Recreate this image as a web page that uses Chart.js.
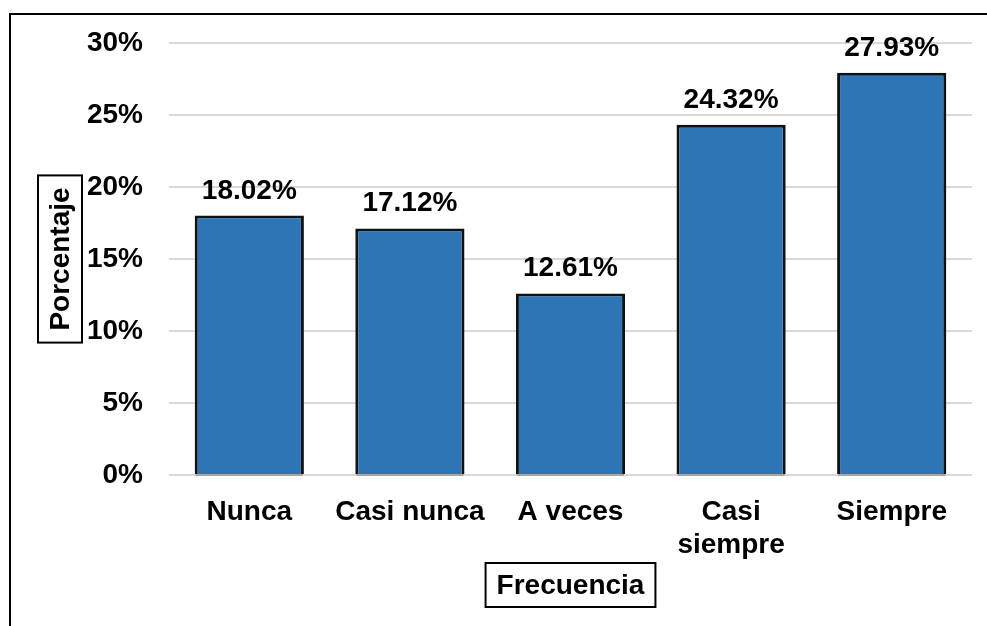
<!DOCTYPE html>
<html>
<head>
<meta charset="utf-8">
<script src="https://cdn.jsdelivr.net/npm/chart.js@4/dist/chart.umd.min.js"></script>
<style>
  html, body { margin: 0; padding: 0; background: #fff; overflow: hidden; }
  #wrap { position: relative; width: 987px; height: 626px; }
</style>
</head>
<body>
<div id="wrap"><canvas id="chart"></canvas></div>
<script>
// === DATA ===
const categories = ['Nunca', 'Casi nunca', 'A veces', ['Casi', 'siempre'], 'Siempre'];
const percentages = [18.02, 17.12, 12.61, 24.32, 27.93];
const yTicks = [0, 5, 10, 15, 20, 25, 30];
const yTitle = 'Porcentaje';
const xTitle = 'Frecuencia';

const FONT = '"Liberation Sans", Arial, sans-serif';

// === FRAME + AXIS TITLES + VALUE LABELS ===
const decorPlugin = {
  id: 'decor',
  beforeDraw(chart) {
    const c = chart.ctx;
    c.save();
    c.fillStyle = '#fff';
    c.fillRect(0, 0, chart.width, chart.height);
    c.strokeStyle = '#000';
    c.lineWidth = 2;
    c.strokeRect(10, 14, 1000, 700);
    c.restore();
  },
  afterDatasetsDraw(chart) {
    const c = chart.ctx;
    const meta = chart.getDatasetMeta(0);
    c.save();
    // thin shadow line under each bar
    c.fillStyle = '#a6a6a6';
    meta.data.forEach(bar => {
      c.fillRect(bar.x - bar.width / 2 + 1, bar.base, bar.width - 2, 2);
    });
    c.font = 'bold 28px ' + FONT;
    c.fillStyle = '#000';
    c.textAlign = 'center';
    c.textBaseline = 'alphabetic';
    meta.data.forEach((bar, i) => {
      c.fillText(percentages[i].toFixed(2) + '%', bar.x, bar.y - 17);
    });
    c.restore();
  },
  afterDraw(chart) {
    const c = chart.ctx;
    const area = chart.chartArea;
    c.save();
    c.font = 'bold 28px ' + FONT;
    c.fillStyle = '#000';
    c.strokeStyle = '#000';
    c.lineWidth = 2;
    c.textAlign = 'center';
    c.textBaseline = 'middle';

    // x title box
    const xw = c.measureText(xTitle).width + 22;
    const xcx = (area.left + area.right) / 2, xcy = 585;
    c.strokeRect(xcx - xw / 2, xcy - 22, xw, 44);
    c.fillText(xTitle, xcx, xcy + 1);

    // y title box (rotated)
    const yw = c.measureText(yTitle).width + 24;
    const ycx = 60, ycy = (area.top + area.bottom) / 2;
    c.translate(ycx, ycy);
    c.rotate(-Math.PI / 2);
    c.strokeRect(-yw / 2, -22, yw, 44);
    c.fillText(yTitle, 0, 1);
    c.restore();
  }
};

const ctx = document.getElementById('chart');
new Chart(ctx, {
  type: 'bar',
  data: {
    labels: categories,
    datasets: [{
      data: percentages,
      backgroundColor: '#2E75B6',
      borderColor: '#111',
      borderWidth: 3,
      borderSkipped: 'start',
      barPercentage: 0.68,
      categoryPercentage: 1
    }]
  },
  options: {
    responsive: true,
    maintainAspectRatio: false,
    animation: false,
    layout: { padding: { left: 0, top: 43, right: 15, bottom: 0 } },
    plugins: {
      legend: { display: false },
      tooltip: { enabled: false }
    },
    scales: {
      x: {
        grid: { display: false },
        border: { display: false },
        ticks: {
          color: '#000',
          font: { family: FONT, size: 28, weight: 'bold' },
          padding: 12,
          maxRotation: 0,
          autoSkip: false
        },
        afterFit(scale) { scale.height = 151; }
      },
      y: {
        min: 0,
        max: 30,
        afterBuildTicks(scale) { scale.ticks = yTicks.map(v => ({ value: v })); },
        grid: { color: '#d9d9d9', lineWidth: 2, drawTicks: false },
        border: { display: false },
        ticks: {
          color: '#000',
          font: { family: FONT, size: 28, weight: 'bold' },
          padding: 26,
          callback: v => v + '%'
        },
        afterFit(scale) { scale.width = 169; }
      }
    }
  },
  plugins: [decorPlugin]
});
</script>
</body>
</html>
